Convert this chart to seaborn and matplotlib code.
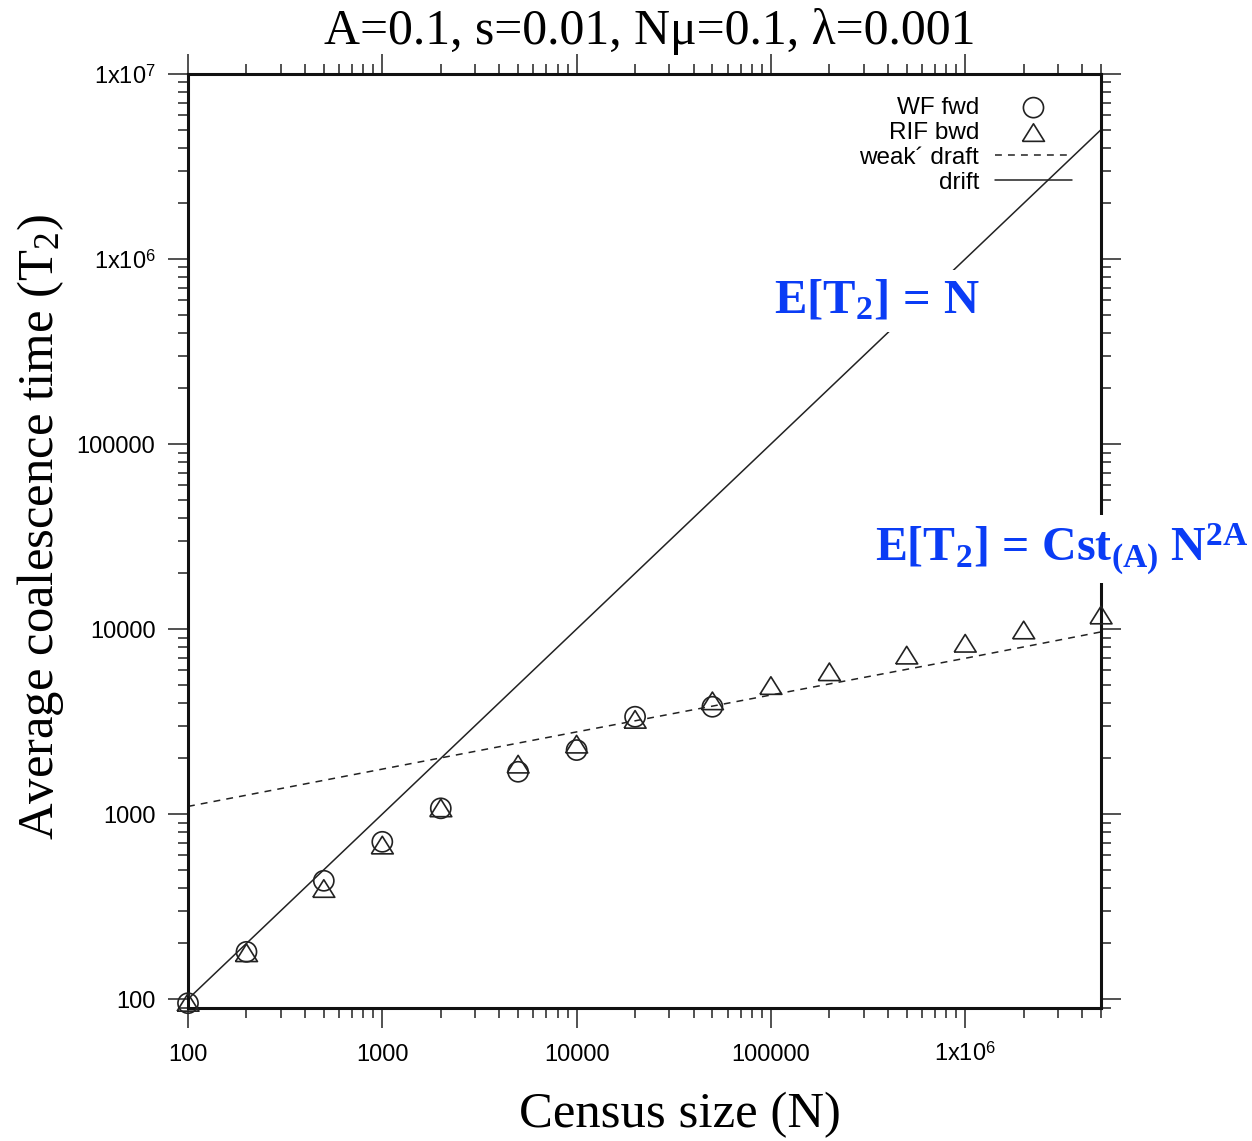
import numpy as np
import pandas as pd
import matplotlib
matplotlib.use('Agg')
import matplotlib.pyplot as plt
import seaborn as sns
from matplotlib.ticker import FixedLocator, FixedFormatter, LogLocator, NullFormatter

# ---- data ----
N_wf = [100, 200, 500, 1000, 2000, 5000, 10000, 20000, 50000]
T_wf = [95, 180, 436, 708, 1074, 1693, 2218, 3358, 3802]
N_rif = [100, 200, 500, 1000, 2000, 5000, 10000, 20000, 50000,
         100000, 200000, 500000, 1000000, 2000000, 5000000]
T_rif = [96, 178, 396, 680, 1080, 1862, 2388, 3250, 4093,
         4950, 5875, 7230, 8380, 9885, 11910]
N_draft = [100, 1000, 10000, 100000, 1000000, 5000000]
T_draft = [1100, 1750, 2780, 4400, 6950, 9650]
N_drift = [100, 5000000]
T_drift = [100, 5000000]

xticks = [100, 1000, 10000, 100000, 1000000]
xticklabels = ['100', '1000', '10000', '100000', r'1x10$^{\mathsf{6}}$']
yticks = [100, 1000, 10000, 100000, 1000000, 10000000]
yticklabels = ['100', '1000', '10000', '100000', r'1x10$^{\mathsf{6}}$', r'1x10$^{\mathsf{7}}$']

title = 'A=0.1, s=0.01, N\u03bc=0.1, \u03bb=0.001'
xlabel = 'Census size (N)'
ylabel = r'Average coalescence time (T$_{\mathrm{2}}$)'
label_drift = r'$\mathbf{E[T_2]\,=\,N}$'
label_draft = r'$\mathbf{E[T_2]\,=\,Cst_{(A)}\ N^{2A}}$'

# ---- style ----
sns.set_style('white')
plt.rcParams['font.family'] = ['Liberation Sans', 'DejaVu Sans']
plt.rcParams['text.color'] = 'black'
plt.rcParams['axes.labelcolor'] = 'black'
plt.rcParams['xtick.color'] = 'black'
plt.rcParams['ytick.color'] = 'black'
plt.rcParams['mathtext.fontset'] = 'custom'
plt.rcParams['mathtext.rm'] = 'Liberation Serif'
plt.rcParams['mathtext.it'] = 'Liberation Serif:italic'
plt.rcParams['mathtext.bf'] = 'Liberation Serif:bold'
plt.rcParams['mathtext.sf'] = 'Liberation Sans'

W, H = 1252, 1141
fig = plt.figure(figsize=(W / 100, H / 100), dpi=100)
ax_l, ax_r, ax_t, ax_b = 188, 1101, 74, 1008
ax = fig.add_axes([ax_l / W, 1 - ax_b / H, (ax_r - ax_l) / W, (ax_b - ax_t) / H])
ax.set_xscale('log')
ax.set_yscale('log')

line_c = '#222222'
sns.lineplot(x=N_draft, y=T_draft, ax=ax, color=line_c, linewidth=1.1,
             linestyle=(0, (4.5, 4)), label='weak\u00b4 draft')
sns.lineplot(x=N_drift, y=T_drift, ax=ax, color=line_c, linewidth=1.1, label='drift')
sns.scatterplot(x=N_wf, y=T_wf, ax=ax, marker='o', s=210, facecolors='none',
                edgecolor=line_c, linewidth=1.2, label='WF fwd', zorder=3, clip_on=False)
tri = [(-1, -0.8), (1, -0.8), (0, 0.8), (-1, -0.8)]
sns.scatterplot(x=N_rif, y=T_rif, ax=ax, marker=tri, s=250, facecolors='none',
                edgecolor=line_c, linewidth=1.2, label='RIF bwd', zorder=3, clip_on=False)

ax.set_xlim(100, 5000000)
ax.set_ylim(89.5, 10000000)

ax.xaxis.set_major_locator(FixedLocator(xticks))
ax.xaxis.set_major_formatter(FixedFormatter(xticklabels))
ax.yaxis.set_major_locator(FixedLocator(yticks))
ax.yaxis.set_major_formatter(FixedFormatter(yticklabels))
ax.xaxis.set_minor_locator(LogLocator(base=10, subs=np.arange(2, 10), numticks=20))
ax.yaxis.set_minor_locator(LogLocator(base=10, subs=np.arange(2, 10), numticks=20))
ax.xaxis.set_minor_formatter(NullFormatter())
ax.yaxis.set_minor_formatter(NullFormatter())

ax.tick_params(which='both', direction='out', top=True, right=True,
               bottom=True, left=True, color='#222222', labelcolor='black')
ax.tick_params(which='major', length=14.4, width=1.1, labelsize=17)
ax.tick_params(which='minor', length=7.2, width=1.1)
ax.tick_params(axis='y', which='major', pad=9)
ax.tick_params(axis='x', which='major', pad=24)
for lab in ax.get_xticklabels():
    lab.set_va('baseline')
for s in ax.spines.values():
    s.set_linewidth(2.2)
    s.set_color('#111111')

ax.set_xlabel(xlabel, family='Liberation Serif', fontsize=36.5)
ax.xaxis.set_label_coords((680 - ax_l) / (ax_r - ax_l), -(1092 - ax_b) / (ax_b - ax_t))
ax.set_ylabel(ylabel, family='Liberation Serif', fontsize=36.5)
ax.yaxis.set_label_coords(-(ax_l - 66) / (ax_r - ax_l), (ax_b - 527) / (ax_b - ax_t))

fig.text(650 / W, 1 - 44 / H, title, family='Liberation Serif', fontsize=35.8,
         ha='center', va='baseline')

handles, labels = ax.get_legend_handles_labels()
order = [labels.index(k) for k in ['WF fwd', 'RIF bwd', 'weak\u00b4 draft', 'drift']]
ax.legend([handles[i] for i in order], [labels[i] for i in order],
          loc='upper right', bbox_to_anchor=((1072 - ax_l) / (ax_r - ax_l), (ax_b - 97) / (ax_b - ax_t)),
          frameon=False, markerfirst=False, fontsize=17.5, borderpad=0, borderaxespad=0,
          handlelength=3.17, handletextpad=0.65, labelspacing=0.12)

blue = '#0a3cf5'
fig.text(877 / W, 1 - 301 / H, label_drift, color=blue, fontsize=35,
         ha='center', va='center', zorder=5,
         bbox=dict(facecolor='white', edgecolor='none', pad=6))
fig.text(1248 / W, 1 - 549 / H, label_draft, color=blue, fontsize=34.5,
         ha='right', va='center', zorder=5,
         bbox=dict(facecolor='white', edgecolor='none', pad=5))

fig.savefig('out.png', dpi=100)
